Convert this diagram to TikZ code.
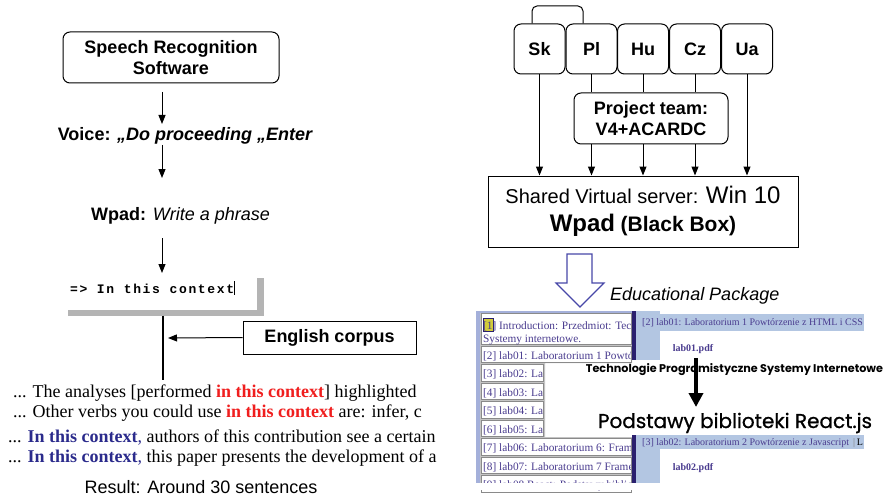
\documentclass[tikz,border=0pt]{standalone}
\usepackage{fontspec}
\setmainfont{Liberation Sans}
\newfontfamily\serifrm{Liberation Serif}
\newfontfamily\termfont{Liberation Mono}[LetterSpace=13]
\newfontfamily\geofont{Poppins}
\usetikzlibrary{arrows.meta}

\definecolor{hotred}{HTML}{F01E1E}
\definecolor{ctxblue}{HTML}{2B2B8C}
\definecolor{linkblue}{HTML}{4A3C8F}
\definecolor{bandblue}{HTML}{B3C6E2}
\definecolor{barnavy}{HTML}{2A1F6E}
\definecolor{framegray}{HTML}{B4B4B4}
\definecolor{rowgray}{HTML}{8A8A8A}
\definecolor{panelgray}{HTML}{C4C4C4}
\definecolor{edgeblue}{HTML}{A4B0DA}
\definecolor{hollowblue}{HTML}{4848A8}
\definecolor{marker}{HTML}{D2CC3A}

\tikzset{
  rbox/.style={draw, rounded corners=7pt, line width=1pt, align=center,
    font=\fontsize{18}{21}\selectfont\bfseries},
  sqbox/.style={draw, line width=1pt, align=center},
  arr/.style={-{Triangle[width=7pt,length=9pt]}, line width=1pt},
  plain/.style={line width=1pt},
  lbl/.style={inner sep=0pt, anchor=base, font=\fontsize{18}{21}\selectfont},
  corpus/.style={inner sep=0pt, anchor=base west, font=\serifrm\fontsize{18}{21}\selectfont},
  toctext/.style={inner sep=0pt, anchor=base west, text=linkblue,
    font=\serifrm\fontsize{11.3}{13}\selectfont},
  bandtext/.style={inner sep=0pt, anchor=base west, text=linkblue,
    font=\serifrm\fontsize{10}{12}\selectfont},
}

% one table-of-contents row: top edge, right edge, text
\newcommand{\labrow}[3]{%
  \fill[white, draw=rowgray, line width=0.8pt] (481,#1) rectangle (#2,#1+16.5);
  \begin{scope}
    \clip (481,#1) rectangle (#2-1,#1+16.5);
    \node[toctext] at (483,#1+13) {#3};
  \end{scope}}

\begin{document}
\begin{tikzpicture}[x=1pt,y=-1pt]
\useasboundingbox[fill=white] (0,0) rectangle (886,500);

% ---------------- left column: from speech to corpus sentences
\node[rbox, minimum width=216pt, minimum height=51pt] (srs) at (171,57.5)
  {Speech Recognition\\Software};
\node[lbl, font=\fontsize{18}{21}\selectfont\bfseries] (voice) at (185,140)
  {Voice: \itshape „Do proceeding „Enter};
\node[lbl] (wpad) at (180.5,220) {\textbf{Wpad:} \textit{Write a phrase}};

\coordinate (a1s) at (162,92);  \coordinate (a1e) at (162,124);
\coordinate (a2s) at (162,145); \coordinate (a2e) at (162,178);
\coordinate (a3s) at (162,238); \coordinate (a3e) at (162,273);
\draw[arr] (a1s) -- (a1e);
\draw[arr] (a2s) -- (a2e);
\draw[arr] (a3s) -- (a3e);

% editor line with the typed phrase
\fill[framegray] (257,278) rectangle (264,315.5);
\fill[framegray] (68,310) rectangle (264,315.5);
\node[inner sep=0pt, anchor=base west, font=\termfont\fontsize{13}{15}\selectfont\bfseries]
  (typed) at (70,293) {=> In this context};
\draw[line width=0.6pt] (typed.east) ++(0,-7) -- ++(0,14);

\coordinate (tbot) at (163,315.5);
\coordinate (tend) at (163,380);
\coordinate (hit) at (168,338);
\draw[line width=1.2pt] (tbot) -- (tend);

\node[sqbox, minimum width=173pt, minimum height=33pt,
      font=\fontsize{18}{21}\selectfont\bfseries] (corpus) at (329.5,337.5) {English corpus};
\draw[arr] (corpus.west) -- (hit);

\node[corpus] (s1) at (13,397)
  {... The analyses [performed {\color{hotred}\bfseries in this context}] highlighted};
\node[corpus] (s2) at (13,417)
  {... Other verbs you could use {\color{hotred}\bfseries in this context} are: infer, c};
\node[corpus] (s3) at (8,442)
  {... {\color{ctxblue}\bfseries In this context}{\color{ctxblue},} authors of this contribution see a certain};
\node[corpus] (s4) at (8,462)
  {... {\color{ctxblue}\bfseries In this context}{\color{ctxblue},} this paper presents the development of a};
\node[lbl] (result) at (201,493) {Result: Around 30 sentences};

% ---------------- right column: partners, team, server
\tikzset{cbox/.style={rbox, minimum width=51pt, minimum height=50pt}}
\node[cbox] (sk) at (539.5,49) {Sk};
\node[cbox] (pl) at (591.5,49) {Pl};
\node[cbox] (hu) at (643,49) {Hu};
\node[cbox] (cz) at (695,49) {Cz};
\node[cbox] (ua) at (747,49) {Ua};
\node[rbox, minimum width=154pt, minimum height=51pt] (team) at (651,118.5)
  {Project team:\\V4+ACARDC};
\node[sqbox, minimum width=310pt, minimum height=71pt, font=\fontsize{20}{28}\selectfont]
  (server) at (643,211.5)
  {Shared Virtual server: {\fontsize{24}{28}\selectfont Win 10}\\
   {\bfseries\fontsize{24}{28}\selectfont Wpad} {\bfseries\fontsize{21}{28}\selectfont (Black Box)}};

\coordinate (loopL) at (532,6);
\coordinate (loopR) at (583,6);
\draw[plain, rounded corners=5pt] (sk.north -| loopL) -- (loopL) -- (loopR) -- (pl.north -| loopR);

\draw[arr] (sk.south) -- (sk.south |- server.north);
\draw[arr] (ua.south) -- (ua.south |- server.north);
\foreach \c in {pl,hu,cz}{
  \draw[plain] (\c.south) -- (\c.south |- team.north);
  \draw[arr] (\c.south |- team.south) -- (\c.south |- server.north);
}

% hollow arrow down to the course material
\draw[hollowblue, line width=1.2pt, fill=white, line join=miter]
  (567,254) -- (592,254) -- (592,283) -- (604,283) -- (580,307) -- (556,283) -- (567,283) -- cycle;
\node[lbl, anchor=base west, font=\fontsize{18}{21}\selectfont\itshape] (edu) at (610,300)
  {Educational Package};

% ---------------- course page: table of contents
\fill[panelgray] (476,311) -- (632,311) -- (632,363) -- (545,363) -- (545,437)
  -- (632,437) -- (632,483) -- (476,483) -- cycle;
\fill[edgeblue] (476,311) rectangle (480,483);
\fill[edgeblue] (476,311) rectangle (632,313);

\fill[white, draw=rowgray, line width=0.8pt] (481,313.5) rectangle (631,344.5);
\begin{scope}
  \clip (481,313.5) rectangle (630,344.5);
  \fill[marker, draw=barnavy, line width=0.8pt] (483,318.5) rectangle (493.5,331);
  \node[toctext] at (483,329) {[1] Introduction: Przedmiot: Technologie};
  \node[toctext] at (483,342) {Systemy internetowe.};
\end{scope}
\labrow{346}{631}{[2] lab01: Laboratorium 1 Powtórzenie}
\labrow{364.5}{543}{[3] lab02: Lab}
\labrow{383}{543}{[4] lab03: Lab}
\labrow{401.5}{543}{[5] lab04: Lab}
\labrow{420}{543}{[6] lab05: Lab}
\labrow{438.5}{631}{[7] lab06: Laboratorium 6: Framework}
\labrow{457}{631}{[8] lab07: Laboratorium 7 Framework}
\labrow{475.5}{631}{[9] lab08 React: Podstawy biblioteki}
\fill[white] (476,483) rectangle (640,490);

% content frames of the course page
\fill[barnavy] (632,311) rectangle (636,360);
\fill[bandblue] (636,311) rectangle (660,360);
\fill[bandblue] (636,314) rectangle (864,331);
\node[bandtext] (lab1) at (642,325) {[2] lab01: Laboratorium 1 Powtórzenie z HTML i CSS};
\node[inner sep=0pt, anchor=base, text=linkblue, font=\serifrm\fontsize{10}{12}\selectfont\bfseries]
  (pdf1) at (693,351) {lab01.pdf};

\fill[barnavy] (632,435) rectangle (636,483);
\fill[bandblue] (636,435) rectangle (660,483);
\fill[bandblue] (636,435) rectangle (864,448.5);
\node[bandtext] (lab2) at (642,445) {[3] lab02: Laboratorium 2 Powtórzenie z Javascript};
\node[bandtext, text=black] (lab2end) at (853,445) {{\color{gray}|}\,L};
\node[inner sep=0pt, anchor=base, text=linkblue, font=\serifrm\fontsize{10}{12}\selectfont\bfseries]
  (pdf2) at (693,470) {lab02.pdf};

% course title and topic
\node[inner sep=0pt, anchor=base, font=\geofont\fontsize{11.2}{13}\selectfont\bfseries]
  (course) at (734.5,372) {Technologie Programistyczne Systemy Internetowe};
\node[inner sep=0pt, anchor=base,
      font=\geofont\fontsize{20}{23}\selectfont\addfontfeature{FakeBold=0.8}]
  (topic) at (735,428) {Podstawy biblioteki React.js};
\coordinate (ts) at (696,358);
\coordinate (te) at (696,407);
\draw[line width=3.5pt, -{Triangle[width=14pt,length=14pt]}] (ts) -- (te);

\end{tikzpicture}
\end{document}
